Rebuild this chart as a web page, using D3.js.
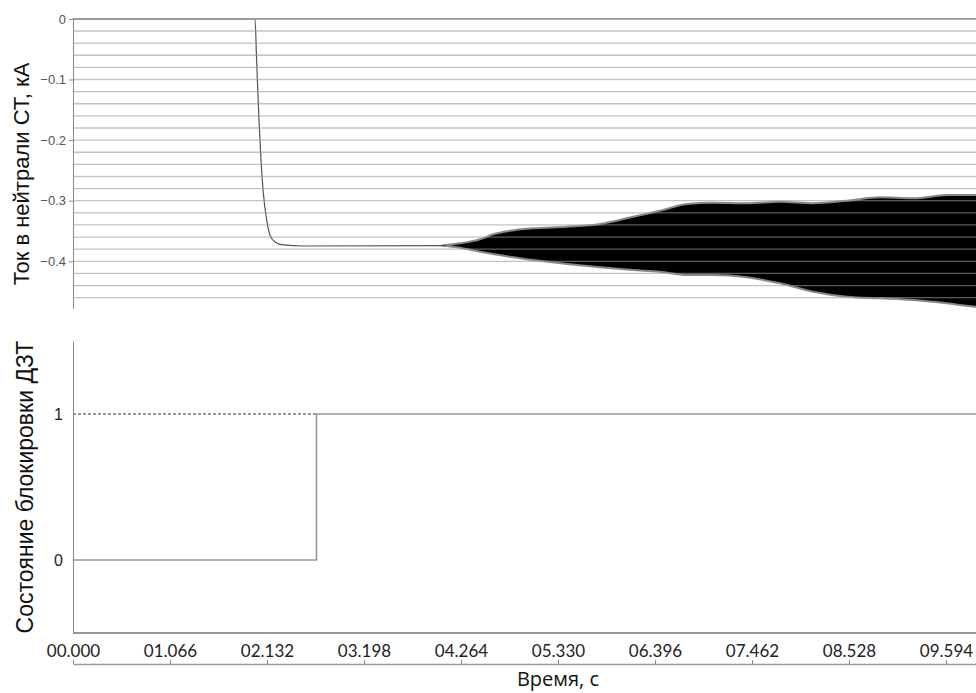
<!DOCTYPE html>
<html>
<head>
<meta charset="utf-8">
<script src="https://cdnjs.cloudflare.com/ajax/libs/d3/7.8.5/d3.min.js"></script>
<style>
	body{
	    margin: 0;
	    background-color: white;
	    overflow: hidden;
	}
</style>
</head>
<body>
<svg id="chart"></svg>
<script>
	var WIDTH = 976;
	var HEIGTH = 693;

	// time axis ticks (s)
	var timeTicks = [0, 1.066, 2.132, 3.198, 4.264, 5.330, 6.396, 7.462, 8.528, 9.594];
	var timeLabels = ["00.000", "01.066", "02.132", "03.198", "04.264", "05.330", "06.396", "07.462", "08.528", "09.594"];

	// neutral current, smooth part (before oscillations)
	var curveT = [0, 2.000, 2.018, 2.044, 2.066, 2.092, 2.129, 2.165, 2.220, 2.311, 2.528, 4.100];
	var curveI = [0, 0, -0.068, -0.167, -0.233, -0.288, -0.332, -0.357, -0.368, -0.373, -0.3747, -0.374];

	// neutral current, envelope of the oscillating part
	var bandT  = [4.050, 4.253, 4.473, 4.616, 4.803, 5.055, 5.429, 5.792, 6.155, 6.451, 6.748, 7.034, 7.407, 7.770, 8.133, 8.506, 8.869, 9.232, 9.605, 9.924, 10.66];
	var bandHi = [-0.374, -0.3703, -0.3637, -0.3554, -0.3495, -0.3455, -0.3429, -0.3384, -0.3264, -0.3165, -0.3054, -0.3033, -0.3043, -0.3016, -0.3043, -0.3000, -0.2944, -0.2960, -0.2906, -0.2906, -0.2900];
	var bandLo = [-0.374, -0.3776, -0.3842, -0.3880, -0.3924, -0.3979, -0.4045, -0.4099, -0.4143, -0.4172, -0.4226, -0.4226, -0.4264, -0.4363, -0.4502, -0.4584, -0.4611, -0.4639, -0.4693, -0.4749, -0.4775];

	// differential protection blocking state
	var stateT = [0, 2.676, 10.66];
	var stateV = [0, 1, 1];

	var topTicks = [0, -0.1, -0.2, -0.3, -0.4];
	var gridTicks = [0, -0.02, -0.04, -0.06, -0.08, -0.1, -0.12, -0.14, -0.16, -0.18, -0.2, -0.22, -0.24, -0.26, -0.28, -0.3, -0.32, -0.34, -0.36, -0.38, -0.4, -0.42, -0.44, -0.46];
	var bottomTicks = [0, 1];

	var svg = d3.select("#chart")
		.attr("width", WIDTH)
		.attr("height", HEIGTH);

	var x = d3.scaleLinear().domain([0, 10.66]).range([73, 1043]);
	var yTop = d3.scaleLinear().domain([-0.4775, 0]).range([308.3, 18.9]);
	var yBot = d3.scaleLinear().domain([-0.5, 1.5]).range([633, 341]);

	///////////////	 TOP PART 	//////////////////
	var band = bandT.map(function(t, i){ return {t: t, hi: bandHi[i], lo: bandLo[i]}; });
	var curve = curveT.map(function(t, i){ return {t: t, v: curveI[i]}; });

	svg.append("path")
		.datum(band)
		.attr("d", d3.area()
			.x(function(d){ return x(d.t); })
			.y0(function(d){ return yTop(d.lo); })
			.y1(function(d){ return yTop(d.hi); })
			.curve(d3.curveMonotoneX))
		.attr("fill", "black")
		.attr("stroke", "#888")
		.attr("stroke-width", 2);

	svg.append("path")
		.datum(curve)
		.attr("d", d3.line()
			.x(function(d){ return x(d.t); })
			.y(function(d){ return yTop(d.v); })
			.curve(d3.curveMonotoneX))
		.attr("fill", "none")
		.attr("stroke", "#555")
		.attr("stroke-width", 1.2);

	// grid is drawn over the data, half transparent
	svg.append("g")
		.selectAll("line")
		.data(gridTicks)
		.enter()
		.append("line")
		.attr("x1", x(0))
		.attr("x2", x(10.66))
		.attr("y1", function(d){ return yTop(d); })
		.attr("y2", function(d){ return yTop(d); })
		.attr("stroke", "#999")
		.attr("stroke-opacity", function(d){ return d == 0 ? 1 : 0.6; })
		.attr("stroke-width", function(d){ return d == 0 ? 1.6 : 1.3; });

	var axTop = svg.append("g")
		.attr("transform", "translate(" + x(0) + ",0)")
		.call(d3.axisLeft(yTop).tickValues(topTicks).tickSize(4).tickSizeOuter(0).tickPadding(3)
			.tickFormat(function(d){ return d == 0 ? "0" : d3.format(".1f")(d); }));
	axTop.attr("font-size", 13).attr("font-family", "'Liberation Sans', Arial, sans-serif");
	axTop.select(".domain").attr("stroke", "#888");
	axTop.selectAll(".tick line").attr("stroke", "#888");
	axTop.selectAll(".tick text").attr("fill", "#555");

	svg.append("text")
		.attr("transform", "translate(29,174) rotate(-90)")
		.attr("text-anchor", "middle")
		.style("font", "22px 'Liberation Sans', Arial, sans-serif")
		.style("fill", "#111")
		.text("Ток в нейтрали СТ, кА");

	///////////////	 BOTTOM PART 	//////////////////
	svg.append("line")
		.attr("x1", x(0))
		.attr("x2", x(10.66))
		.attr("y1", yBot(-0.5))
		.attr("y2", yBot(-0.5))
		.attr("stroke", "#999")
		.attr("stroke-width", 2);

	svg.append("line")
		.attr("x1", x(0))
		.attr("x2", x(stateT[1]))
		.attr("y1", yBot(1))
		.attr("y2", yBot(1))
		.attr("stroke", "#333")
		.attr("stroke-width", 1)
		.attr("stroke-dasharray", "3,2");

	var state = stateT.map(function(t, i){ return {t: t, v: stateV[i]}; });
	svg.append("path")
		.datum(state)
		.attr("d", d3.line()
			.x(function(d){ return x(d.t); })
			.y(function(d){ return yBot(d.v); })
			.curve(d3.curveStepAfter))
		.attr("fill", "none")
		.attr("stroke", "#999")
		.attr("stroke-width", 1.6);

	var axBot = svg.append("g")
		.attr("transform", "translate(" + x(0) + ",0)")
		.call(d3.axisLeft(yBot).tickValues(bottomTicks).tickSize(0).tickSizeOuter(0).tickPadding(10)
			.tickFormat(d3.format("d")));
	axBot.attr("font-size", 16).attr("font-family", "'Liberation Sans', Arial, sans-serif");
	axBot.select(".domain").attr("stroke", "#888");
	axBot.selectAll(".tick text").attr("fill", "#222");

	svg.append("text")
		.attr("transform", "translate(33," + (yBot.range()[0] + yBot.range()[1]) / 2 + ") rotate(-90)")
		.attr("text-anchor", "middle")
		.style("font", "23px 'Liberation Sans', Arial, sans-serif")
		.style("fill", "#111")
		.text("Состояние блокировки ДЗТ");

	///////////////	 TIME AXIS 	//////////////////
	var axTime = svg.append("g")
		.attr("transform", "translate(0,664)")
		.call(d3.axisTop(x).tickValues(timeTicks).tickSize(4).tickSizeOuter(0).tickPadding(3)
			.tickFormat(function(d, i){ return timeLabels[i]; }));
	axTime.attr("font-size", 17).attr("font-family", "Lato, 'Open Sans', sans-serif");
	axTime.select(".domain").attr("stroke", "#999").attr("stroke-width", 1.6);
	axTime.selectAll(".tick line").attr("stroke", "#888");
	axTime.selectAll(".tick text")
		.attr("dy", "0")
		.attr("fill", "#222");

	svg.append("text")
		.attr("x", (x.range()[0] + x.range()[1]) / 2)
		.attr("y", 686)
		.attr("text-anchor", "middle")
		.style("font", "20px 'Open Sans', Lato, sans-serif")
		.style("fill", "#111")
		.text("Время, с");
</script>
</body>
</html>
